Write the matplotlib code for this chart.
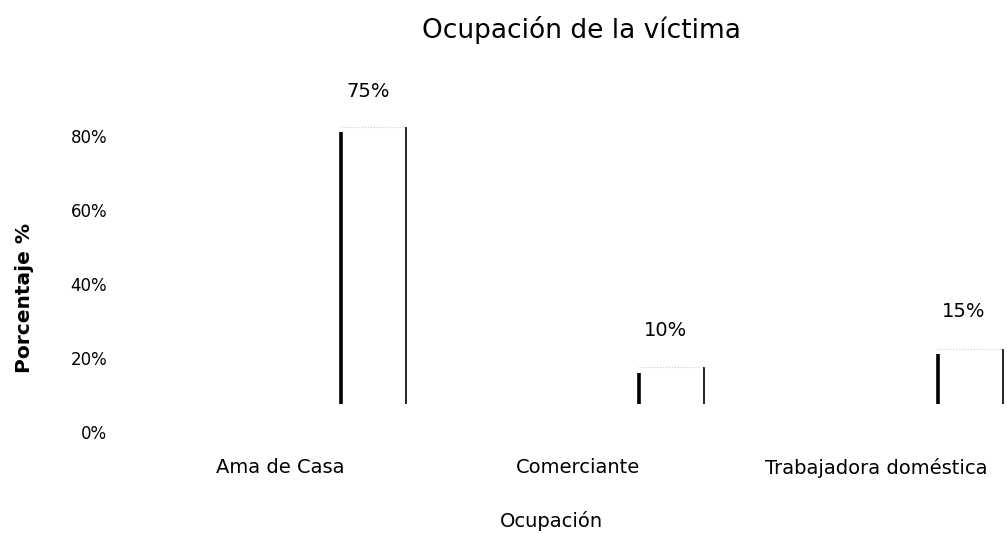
import matplotlib

matplotlib.use("Agg")

import matplotlib.pyplot as plt
import numpy as np

categories = ["Ama de Casa", "Comerciante", "Trabajadora doméstica"]
values = [75, 10, 15]
value_labels = ["75%", "10%", "15%"]
y_ticks = [0, 20, 40, 60, 80]
y_tick_labels = ["0%", "20%", "40%", "60%", "80%"]

# the scanned bars float a little above the zero line
base = 7.5

fig = plt.figure(figsize=(10.07, 5.37), dpi=100)
ax = fig.add_axes([0.119, 0.162, 0.881, 0.689])

x = np.arange(len(categories))
bars = ax.bar(x, values, bottom=base, width=0.218, color="white", edgecolor="none")

for bar in bars:
    x0 = bar.get_x()
    x1 = x0 + bar.get_width()
    y0 = bar.get_y()
    y1 = y0 + bar.get_height()
    ax.vlines(x0, y0, y1 - 1.5, color="black", linewidth=2.6)
    ax.vlines(x1, y0, y1, color="#222222", linewidth=1.4)
    ax.hlines(y1, x0, x1, color="#cccccc", linewidth=0.8, linestyles=":")

tops = base + np.array(values)
label_y = np.minimum(tops + 10, 92)
for xi, ly, txt in zip(x, label_y, value_labels):
    ax.text(xi - 0.02, ly, txt, ha="center", va="center", fontsize=14,
            family="DejaVu Sans", color="black")

ax.set_xlim(-0.852, 2.124)
ax.set_ylim(-4.86, 95.1)
# category labels sit left of their bars in the scan
ax.set_xticks(x - 0.315)
ax.set_xticklabels(categories, fontsize=14, family="DejaVu Sans")
ax.set_yticks(y_ticks)
ax.set_yticklabels(y_tick_labels, fontsize=12, family="DejaVu Sans")
ax.tick_params(axis="both", length=0)
ax.tick_params(axis="y", pad=9)
ax.tick_params(axis="x", pad=6)
for spine in ax.spines.values():
    spine.set_visible(False)

ax.set_ylabel("Porcentaje %", fontsize=14.5, fontweight="bold")
ax.yaxis.set_label_coords(-0.097, 0.41)
ax.set_xlabel("Ocupación", fontsize=14)
ax.xaxis.set_label_coords(0.486, -0.165)
fig.text(0.577, 0.944, "Ocupación de la víctima", ha="center", va="center", fontsize=19)

fig.savefig("out.png", dpi=100)
